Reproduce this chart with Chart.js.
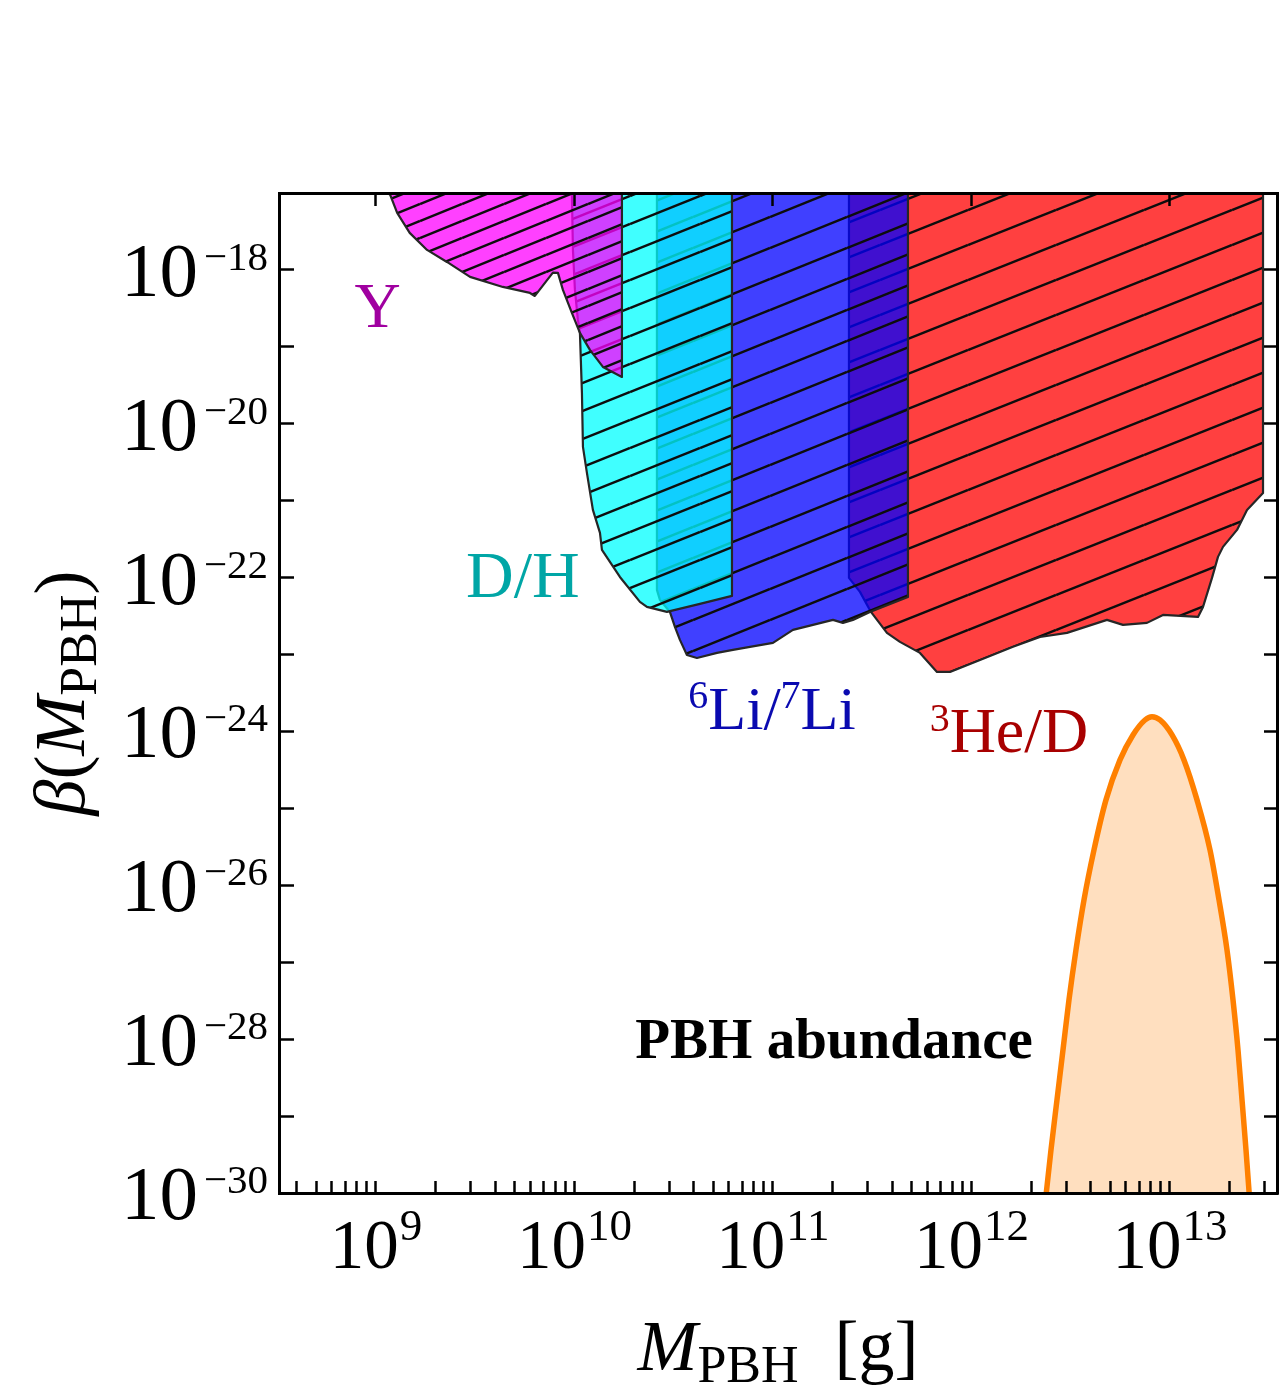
<!DOCTYPE html>
<html>
<head>
<meta charset="utf-8">
<script src="https://cdn.jsdelivr.net/npm/chart.js@4.4.1/dist/chart.umd.min.js"></script>
<style>
  html, body { margin: 0; padding: 0; background: #fff; }
  #wrap { width: 1281px; height: 1390px; }
</style>
</head>
<body>
<div id="wrap"><canvas id="bbnChart" width="1281" height="1390"></canvas></div>
<script>
/* =============================
   DATA
============================= */
// Y (helium-4 abundance) bound
const massY = [1.15e9, 1.18e9, 1.28e9, 1.48e9, 1.81e9, 2.28e9, 2.98e9, 4.36e9, 5.97e9, 6.32e9,
  7.79e9, 8.26e9, 8.75e9, 9.71e9, 1.066e10, 1.197e10, 1.392e10, 1.735e10, 1.735e10];
const betaY = [1e-17, 9.44e-18, 5.51e-18, 3.03e-18, 1.82e-18, 1.27e-18, 8.11e-19, 6.01e-19, 5.02e-19, 4.59e-19,
  9.23e-19, 9.14e-19, 5.5e-19, 2.76e-19, 1.52e-19, 9.12e-20, 5.48e-20, 4.06e-20, 1e-17];

// D/H bound
const massDH = [9.71e9, 9.83e9, 1.006e10, 1.041e10, 1.066e10, 1.091e10, 1.104e10, 1.156e10, 1.239e10,
  1.345e10, 1.376e10, 1.695e10, 2.138e10, 2.319e10, 2.924e10, 4.287e10, 6.218e10, 6.218e10];
const betaDH = [1e-17, 1.82e-18, 5.5e-19, 2.24e-19, 1.52e-19, 2.52e-20, 5.0e-21, 2.3e-21, 7.59e-22,
  3.81e-22, 2.29e-22, 1.02e-22, 4.83e-23, 4.16e-23, 3.58e-23, 4.55e-23, 5.78e-23, 1e-17];

// 6Li/7Li bound
const massLi = [2.604e10, 2.604e10, 2.696e10, 3.027e10, 3.208e10, 3.4e10, 3.688e10, 4.142e10, 5.224e10, 6.29e10,
  7.66e10, 1.0e11, 1.261e11, 1.591e11, 2.006e11, 2.252e11, 2.529e11, 3.08e11, 4.787e11, 4.787e11];
const betaLi = [1e-17, 6.92e-23, 5.13e-23, 3.58e-23, 2.29e-23, 1.55e-23, 9.88e-24, 9.03e-24, 1.05e-23, 1.15e-23,
  1.26e-23, 1.42e-23, 2.09e-23, 2.43e-23, 2.82e-23, 2.58e-23, 2.82e-23, 3.58e-23, 5.61e-23, 1e-17];

// 3He/D bound
const massHeD = [2.415e11, 2.415e11, 2.744e11, 3.117e11, 3.752e11, 4.363e11, 5.503e11, 6.703e11, 7.795e11,
  1.104e12, 1.619e12, 2.214e12, 3.028e12, 4.815e12, 5.797e12, 7.657e12, 9.22e12, 1.384e13, 1.467e13,
  1.628e13, 1.745e13, 1.849e13, 2.176e13, 2.443e13, 2.942e13, 2.942e13];
const betaHeD = [1e-17, 9.91e-23, 6.52e-23, 3.58e-23, 1.91e-23, 1.46e-23, 1.05e-23, 5.94e-24, 5.94e-24,
  8.51e-24, 1.26e-23, 1.69e-23, 1.91e-23, 2.82e-23, 2.43e-23, 2.58e-23, 3.27e-23, 3.08e-23, 4.16e-23,
  9.91e-23, 1.86e-22, 2.51e-22, 4.17e-22, 7.59e-22, 1.26e-21, 1e-17];

// PBH abundance curve
const massPBH = [2.346e12, 2.515e12, 2.696e12, 2.891e12, 3.099e12, 3.361e12, 3.688e12, 4.141e12, 4.76e12,
  5.6e12, 6.51e12, 7.483e12, 8.117e12, 8.904e12, 1.024e13, 1.176e13, 1.368e13, 1.591e13, 1.766e13,
  1.937e13, 2.077e13, 2.201e13, 2.306e13, 2.415e13, 2.53e13];
const betaPBH = [6.98e-31, 3.63e-30, 1.62e-29, 7.24e-29, 3.24e-28, 1.45e-27, 6.46e-27, 2.88e-26, 1.29e-25,
  4.27e-25, 9.01e-25, 1.41e-24, 1.55e-24, 1.41e-24, 9.01e-25, 4.27e-25, 1.29e-25, 2.88e-26, 6.46e-27,
  1.45e-27, 3.24e-28, 7.24e-29, 1.62e-29, 3.63e-30, 6.98e-31];

// axes
const X_MIN = 3.25e8, X_MAX = 3.46e13;
const Y_MIN = 1e-30, Y_MAX = 1e-17;
const xLabelPowers = [9, 10, 11, 12, 13];
const yLabelPowers = [-18, -20, -22, -24, -26, -28, -30];
const yDecadePowers = [-30, -29, -28, -27, -26, -25, -24, -23, -22, -21, -20, -19, -18, -17];

/* =============================
   HELPERS
============================= */
const toPoints = (xs, ys) => xs.map((x, i) => ({ x, y: ys[i] }));

function hatch(fill, gap, width) {
  const c = document.createElement("canvas");
  c.width = width;
  c.height = gap;
  const g = c.getContext("2d");
  g.fillStyle = fill;
  g.fillRect(0, 0, width, gap);
  g.strokeStyle = "#0d0d0d";
  g.lineWidth = 2.5;
  for (let k = -1; k <= 1; k++) {
    g.beginPath();
    g.moveTo(0, gap + k * gap);
    g.lineTo(width, k * gap);
    g.stroke();
  }
  return g.createPattern(c, "repeat");
}

function minorTicks(lo, hi) {
  const out = [];
  for (let p = Math.floor(Math.log10(lo)); p <= Math.ceil(Math.log10(hi)); p++) {
    for (let k = 1; k <= 9; k++) {
      const v = k * Math.pow(10, p);
      if (v >= lo && v <= hi) out.push({ value: v });
    }
  }
  return out;
}

function drawRuns(ctx, runs, x, y, align) {
  let total = 0;
  runs.forEach(r => { ctx.font = r.font; r.w = ctx.measureText(r.text).width + (r.gap || 0); total += r.w; });
  let cx = align === "center" ? x - total / 2 : align === "right" ? x - total : x;
  runs.forEach(r => {
    ctx.font = r.font;
    if (r.color) ctx.fillStyle = r.color;
    ctx.fillText(r.text, cx + (r.gap || 0), y + (r.dy || 0));
    cx += r.w;
  });
}

const SERIF = '"Liberation Serif", "Times New Roman", serif';

const regionLabels = [
  { x: 1.02e9, y: 1.82e-19, color: "#a000a0", runs: [["Y", 64, 0]] },
  { x: 5.5e9, y: 5.61e-23, color: "#00a6a6", runs: [["D/H", 66, 0]] },
  { x: 9.89e10, y: 1.08e-24, color: "#0a0ab0", runs: [["6", 40, -21], ["Li/", 62, 0], ["7", 40, -21], ["Li", 62, 0]] },
  { x: 1.545e12, y: 5.42e-25, color: "#a80000", runs: [["3", 40, -21], ["He/D", 64, 0]] }
];

/* =============================
   TEXT PLUGIN
============================= */
const textPlugin = {
  id: "bbnText",
  afterDraw(chart) {
    const { ctx } = chart;
    const xs = chart.scales.x, ys = chart.scales.y;
    ctx.save();
    ctx.textAlign = "left";
    ctx.textBaseline = "alphabetic";
    ctx.fillStyle = "#000";

    xLabelPowers.forEach(p => {
      const px = xs.getPixelForValue(Math.pow(10, p));
      drawRuns(ctx, [
        { text: "10", font: "69px " + SERIF },
        { text: String(p), font: "45px " + SERIF, dy: -28, gap: 1 }
      ], px, 1268, "center");
    });

    yLabelPowers.forEach(p => {
      const py = ys.getPixelForValue(Math.pow(10, p));
      drawRuns(ctx, [
        { text: "10", font: "77px " + SERIF, dy: 26 },
        { text: "\u2212" + Math.abs(p), font: "41px " + SERIF, dy: 0, gap: 6 }
      ], 268, py, "right");
    });

    // axis titles
    drawRuns(ctx, [
      { text: "M", font: "italic 72px " + SERIF },
      { text: "PBH", font: "52px " + SERIF, dy: 12 },
      { text: "  [g]", font: "72px " + SERIF }
    ], (chart.chartArea.left + chart.chartArea.right) / 2, 1370, "center");

    ctx.save();
    ctx.translate(84, (chart.chartArea.top + chart.chartArea.bottom) / 2);
    ctx.rotate(-Math.PI / 2);
    drawRuns(ctx, [
      { text: "\u03b2", font: "italic 72px " + SERIF },
      { text: "(", font: "72px " + SERIF },
      { text: "M", font: "italic 72px " + SERIF },
      { text: "PBH", font: "52px " + SERIF, dy: 12 },
      { text: ")", font: "72px " + SERIF }
    ], 0, 0, "center");
    ctx.restore();

    // region labels
    regionLabels.forEach(l => {
      ctx.fillStyle = l.color;
      drawRuns(ctx, l.runs.map(r => ({ text: r[0], font: r[1] + "px " + SERIF, dy: r[2] })),
        xs.getPixelForValue(l.x), ys.getPixelForValue(l.y), "center");
    });

    ctx.fillStyle = "#000";
    drawRuns(ctx, [{ text: "PBH abundance", font: "bold 57px " + SERIF }],
      xs.getPixelForValue(2.03e11), ys.getPixelForValue(5.7e-29), "center");
    ctx.restore();
  }
};

/* =============================
   CHART
============================= */
const edge = "#262626";
const region = (label, xs, ys, pattern, order) => ({
  label,
  data: toPoints(xs, ys),
  borderColor: edge,
  borderWidth: 2.2,
  borderJoinStyle: "round",
  backgroundColor: pattern,
  fill: "end",
  tension: 0,
  pointRadius: 0,
  order
});

const frameGrid = len => ({
  display: true,
  drawOnChartArea: false,
  drawTicks: true,
  tickLength: -len,
  tickWidth: 2.5,
  tickColor: "#000",
  z: 1
});
const frameBorder = { display: true, color: "#000", width: 3, z: 1 };

new Chart(document.getElementById("bbnChart"), {
  type: "line",
  data: {
    datasets: [
      {
        label: "PBH abundance",
        data: toPoints(massPBH, betaPBH),
        borderColor: "#ff8000",
        borderWidth: 5.5,
        backgroundColor: "rgba(255,128,0,0.25)",
        fill: "start",
        cubicInterpolationMode: "monotone",
        pointRadius: 0,
        order: 0
      },
      region("Y", massY, betaY, hatch("rgba(255,0,255,0.75)", 17, 42), 1),
      region("D/H", massDH, betaDH, hatch("rgba(0,255,255,0.75)", 28, 70), 2),
      region("6Li/7Li", massLi, betaLi, hatch("rgba(0,0,255,0.75)", 31, 77), 3),
      region("3He/D", massHeD, betaHeD, hatch("rgba(255,0,0,0.75)", 35, 88), 4)
    ]
  },
  options: {
    responsive: false,
    devicePixelRatio: 1,
    animation: false,
    events: [],
    layout: { padding: 0 },
    plugins: { legend: { display: false }, tooltip: { enabled: false } },
    scales: {
      x: {
        type: "logarithmic", position: "bottom", min: X_MIN, max: X_MAX, bounds: "data",
        afterBuildTicks: s => { s.ticks = minorTicks(X_MIN, X_MAX); },
        afterFit: s => { s.height = 197; },
        ticks: { display: false },
        grid: frameGrid(12),
        border: frameBorder
      },
      x2: {
        type: "logarithmic", position: "top", min: X_MIN, max: X_MAX, bounds: "data",
        afterBuildTicks: s => { s.ticks = xLabelPowers.map(p => ({ value: Math.pow(10, p) })); },
        afterFit: s => { s.height = 193; },
        ticks: { display: false },
        grid: frameGrid(13),
        border: frameBorder
      },
      y: {
        type: "logarithmic", position: "left", min: Y_MIN, max: Y_MAX, bounds: "data",
        afterBuildTicks: s => { s.ticks = yDecadePowers.map(p => ({ value: Math.pow(10, p) })); },
        afterFit: s => { s.width = 279; },
        ticks: { display: false },
        grid: frameGrid(15),
        border: frameBorder
      },
      y2: {
        type: "logarithmic", position: "right", min: Y_MIN, max: Y_MAX, bounds: "data",
        afterBuildTicks: s => { s.ticks = yDecadePowers.map(p => ({ value: Math.pow(10, p) })); },
        afterFit: s => { s.width = 4; },
        ticks: { display: false },
        grid: frameGrid(13),
        border: frameBorder
      }
    }
  },
  plugins: [textPlugin]
});
</script>
</body>
</html>
